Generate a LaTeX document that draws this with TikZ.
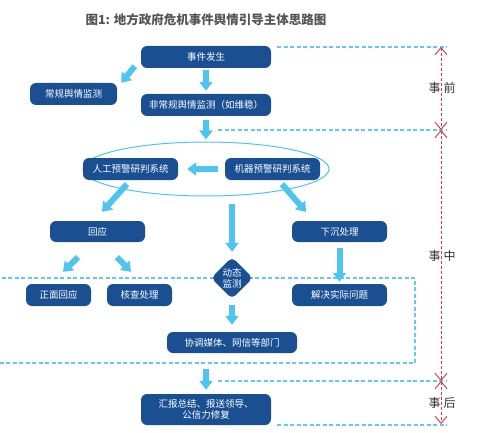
\documentclass[tikz,border=0pt]{standalone}
\usepackage{fontspec}
\setmainfont{Noto Sans CJK SC}
\usetikzlibrary{arrows.meta,shapes.geometric,calc}
\definecolor{boxblue}{HTML}{1A5092}
\definecolor{arrblue}{HTML}{4EC4F0}
\definecolor{dashblue}{HTML}{62C9F2}
\definecolor{redline}{HTML}{E23040}
\definecolor{titlegray}{HTML}{555555}
\begin{document}
\begin{tikzpicture}[x=1pt,y=-1pt,
  box/.style={fill=boxblue, rounded corners=6pt, text=white, font=\fontsize{9.5}{11.5}\selectfont, inner sep=0pt, align=center, minimum height=22pt},
  bigarrow/.style={draw=arrblue, line width=6pt, -{Triangle[width=13pt,length=9pt]}},
  blued/.style={draw=dashblue, line width=1.2pt, dash pattern=on 4pt off 2.5pt},
  redd/.style={draw=redline, line width=0.9pt, dash pattern=on 3pt off 2pt, {Straight Barb[width=12pt,length=7pt]}-{Straight Barb[width=12pt,length=7pt]}},
  phase/.style={text=black!80, font=\fontsize{12}{14}\selectfont, inner sep=0pt}]
\useasboundingbox (0,0) rectangle (479,433);

% title
\node[font=\bfseries\fontsize{12.5}{14}\selectfont, text=titlegray] (title) at (206,20) {图1: 地方政府危机事件舆情引导主体思路图};

% dashed rectangle (事中 region)
\draw[blued] (-5,278) -- (415,278) -- (415,363) -- (-5,363);

% phase boundary lines
\coordinate (b0s) at (277,47);  \coordinate (b0e) at (447,47);
\coordinate (b1s) at (218,130); \coordinate (b1e) at (447,130);
\coordinate (b2s) at (218,381); \coordinate (b2e) at (447,381);
\coordinate (b3s) at (277,425); \coordinate (b3e) at (447,425);
\draw[blued] (b0s) -- (b0e);
\draw[blued] (b1s) -- (b1e);
\draw[blued] (b2s) -- (b2e);
\draw[blued] (b3s) -- (b3e);

% ellipse
\node[ellipse, draw=arrblue, line width=1pt, minimum width=246pt, minimum height=54pt, inner sep=0pt] (ell) at (206,169) {};

% nodes
\node[box, minimum width=130pt] (e1) at (206,57) {事件发生};
\node[box, minimum width=87pt] (e2) at (73.5,94) {常规舆情监测};
\node[box, minimum width=130pt] (e3) at (206,105) {非常规舆情监测（如维稳）};
\node[box, minimum width=95pt] (m1) at (130.5,169) {人工预警研判系统};
\node[box, minimum width=95pt] (m2) at (272.5,169) {机器预警研判系统};
\node[box, minimum width=95pt, minimum height=21pt] (r1) at (97.5,231.5) {回应};
\node[box, minimum width=95pt, minimum height=21pt] (r2) at (339.5,231.5) {下沉处理};
\node[box, shape=diamond, minimum width=42pt, minimum height=42pt, rounded corners=5pt, font=\fontsize{9.5}{11}\selectfont] (d) at (232,278) {动态\\监测};
\node[box, minimum width=65pt] (s1) at (58.5,295) {正面回应};
\node[box, minimum width=65pt] (s2) at (139.5,295) {核查处理};
\node[box, minimum width=95pt] (s3) at (339.5,295) {解决实际问题};
\node[box, minimum width=130pt, minimum height=21pt] (c) at (232,342.5) {协调媒体、网信等部门};
\node[box, minimum width=130pt, minimum height=31pt, font=\fontsize{9.5}{11.5}\selectfont] (f) at (206,409.5) {汇报总结、报送领导、\\公信力修复};

% thick arrows
\draw[bigarrow] ($(e1.south west)+(-6,-2)$) -- ($(e2.north east)+(4,0)$);
\draw[bigarrow] ($(e1.south)+(0,2)$) -- ($(e3.north)+(0,-3)$);
\draw[bigarrow] ($(e3.south)+(0,4)$) -- ($(ell.north)+(0,-2)$);
\draw[bigarrow] ($(m2.west)+(-7,0)$) -- ($(m1.east)+(9,0)$);
\draw[bigarrow] ($(m1.south)+(-3.5,4)$) -- ($(r1.north)+(4.5,-9)$);
\draw[bigarrow] ($(m2.south)+(9.5,4)$) -- ($(r2.north)+(-33.5,-9)$);
\draw[bigarrow] ($(d.north)+(0,-53)$) -- ($(d.north)+(0,-5)$);
\draw[bigarrow] ($(r1.south)+(-19.5,15)$) -- ($(s1.north)+(4.5,-12)$);
\draw[bigarrow] ($(r1.south)+(19.5,15)$) -- ($(s2.north)+(-8.5,-12)$);
\draw[bigarrow] ($(r2.south)+(0,6)$) -- ($(s3.north)+(0,-2)$);
\draw[bigarrow] ($(d.south)+(0,6)$) -- ($(c.north)+(0,-7)$);
\draw[bigarrow] ($(f.north)+(0,-25)$) -- ($(f.north)+(0,-4)$);

% red phase arrows
\coordinate (p0) at (441,47);
\coordinate (p1) at (441,130);
\coordinate (p2) at (441,381);
\coordinate (p3) at (441,424);
\draw[redd] (p0) -- (p1);
\draw[redd] (p1) -- (p2);
\draw[redd] (p2) -- (p3);

% phase labels
\node[phase] (ph1) at (442,88) {事\hspace{3pt}前};
\node[phase] (ph2) at (442,256) {事\hspace{3pt}中};
\node[phase] (ph3) at (442,403) {事\hspace{3pt}后};
\end{tikzpicture}
\end{document}
